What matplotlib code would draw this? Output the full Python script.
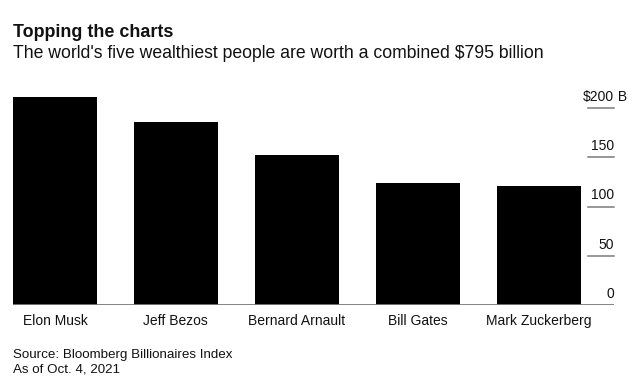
"""Topping the charts: five wealthiest people, Bloomberg style bar chart."""

import matplotlib
matplotlib.use("Agg")
import matplotlib.pyplot as plt
import matplotlib.transforms as mtransforms

plt.rcParams["font.family"] = ["Liberation Sans", "DejaVu Sans"]

# data ($ billions)
names = ["Elon Musk", "Jeff Bezos", "Bernard Arnault", "Bill Gates", "Mark Zuckerberg"]
worth = [211, 186, 153, 124, 121]
y_ticks = [0, 50, 100, 150, 200]
y_tick_labels = ["0", "50", "100", "150", "$200"]

TEXT_COLOR = "#111111"
RULE_COLOR = "#7a7a7a"

W, H = 640, 391
fig = plt.figure(figsize=(W / 100, H / 100), dpi=100)

# axes placed in pixel terms: plot area from x=13 to 614, baseline at y=305
px_per_unit = (305 - 108.3) / 200
y_top = 220
ax = fig.add_axes([13 / W, (H - 305) / H, 601 / W, y_top * px_per_unit / H])

ax.bar(range(len(names)), worth, width=0.695, color="black", linewidth=0)
ax.set_xlim(-0.347, 4.624)
ax.set_ylim(0, y_top)

for side in ax.spines.values():
    side.set_visible(False)
ax.set_xticks([])
ax.set_yticks([])

# baseline and short gridline stubs on the right
ax.axhline(0, color=RULE_COLOR, lw=1.3, zorder=3)
trans = mtransforms.blended_transform_factory(ax.transAxes, ax.transData)
for v in y_ticks[1:]:
    ax.plot([0.957, 1.0], [v, v], transform=trans, color=RULE_COLOR, lw=1.1,
            clip_on=False)

for v, lab in zip(y_ticks, y_tick_labels):
    ax.annotate(lab, (1.0, v), xycoords=trans, xytext=(0, 5.2),
                textcoords="offset points", ha="right", va="baseline",
                fontsize=10, color=TEXT_COLOR, annotation_clip=False)
ax.annotate(" B", (1.0, y_ticks[-1]), xycoords=trans, xytext=(0, 5.2),
            textcoords="offset points", ha="left", va="baseline",
            fontsize=10, color=TEXT_COLOR, annotation_clip=False)

# category labels under the bars
for i, name in enumerate(names):
    ax.annotate(name, (i, 0), xytext=(0, -14.4), textcoords="offset points",
                ha="center", va="baseline", fontsize=10, color=TEXT_COLOR,
                annotation_clip=False)

# titles and notes
fig.text(13 / W, 1 - 37 / H, "Topping the charts", fontsize=12.9,
         fontweight="bold", color=TEXT_COLOR, va="baseline")
fig.text(13 / W, 1 - 58 / H,
         "The world's five wealthiest people are worth a combined $795 billion",
         fontsize=12.7, color=TEXT_COLOR, va="baseline")
fig.text(13 / W, 1 - 358 / H, "Source: Bloomberg Billionaires Index",
         fontsize=9.6, color=TEXT_COLOR, va="baseline")
fig.text(13 / W, 1 - 373 / H, "As of Oct. 4, 2021",
         fontsize=9.6, color=TEXT_COLOR, va="baseline")

fig.savefig("out.png", dpi=100, facecolor="white")
